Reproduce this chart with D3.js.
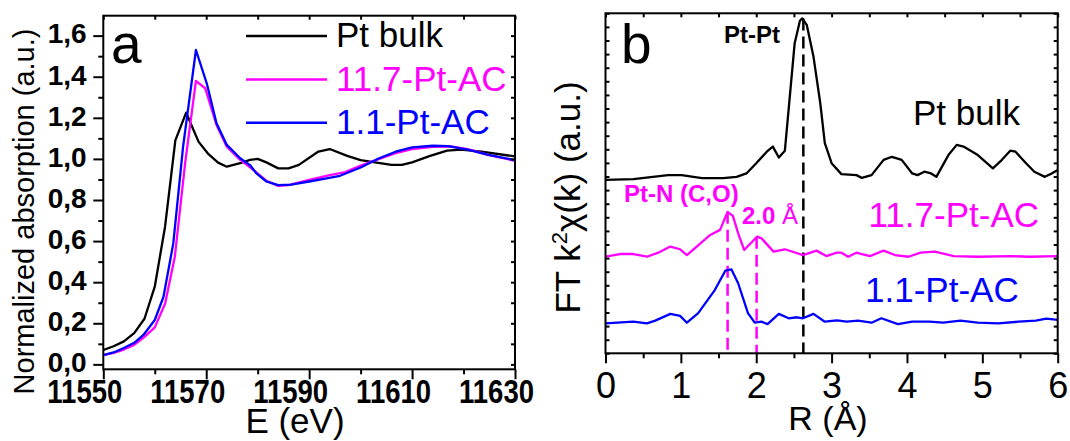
<!DOCTYPE html>
<html><head><meta charset="utf-8">
<script src="https://cdn.jsdelivr.net/npm/d3@7"></script>
<style>
body{margin:0;background:#fff}
svg{display:block}
text{font-family:"Liberation Sans",Arial,Helvetica,sans-serif}
</style>
</head><body>
<svg id="c" width="1070" height="441"></svg>
<script>
// ---------- Panel a : XANES ----------
const seriesNames = ["Pt bulk", "11.7-Pt-AC", "1.1-Pt-AC"];
const seriesColors = ["#000000", "#ff00ff", "#0000ff"];

const xanesBulk = [[11550,0.070],[11552,0.088],[11554,0.112],[11556,0.152],[11558,0.222],[11560,0.378],[11562,0.670],[11564,1.090],[11566.1,1.225],[11568.5,1.084],[11570.4,1.024],[11572.3,0.982],[11574,0.962],[11576.6,0.979],[11578.5,0.995],[11580,1.000],[11581.7,0.983],[11584,0.954],[11586,0.954],[11588,0.971],[11591.8,1.036],[11594,1.048],[11597.4,1.015],[11600,0.994],[11602.8,0.983],[11606,0.971],[11608,0.971],[11610,0.983],[11613.5,1.015],[11616.8,1.040],[11619.5,1.045],[11623.5,1.035],[11630,1.012]];
const xanes117 = [[11550,0.045],[11552,0.056],[11554,0.072],[11556,0.095],[11558,0.134],[11560,0.180],[11562,0.295],[11563.9,0.524],[11565.9,0.979],[11568,1.380],[11569.8,1.344],[11572,1.165],[11574,1.059],[11576.6,0.995],[11579.4,0.942],[11581.7,0.893],[11584,0.869],[11586,0.872],[11590,0.898],[11594,0.921],[11596.8,0.934],[11600,0.967],[11603.5,0.999],[11606.8,1.028],[11610,1.048],[11614,1.059],[11617.5,1.061],[11620.8,1.048],[11624.8,1.020],[11630,0.991]];
const xanes11 = [[11550,0.045],[11552,0.058],[11554,0.080],[11556,0.105],[11557.8,0.143],[11560,0.216],[11561.7,0.329],[11563.6,0.589],[11565.5,1.059],[11568,1.530],[11570.1,1.368],[11572,1.173],[11574,1.068],[11576.6,1.003],[11578.5,0.970],[11579.7,0.931],[11581.7,0.890],[11584,0.872],[11586.5,0.875],[11590,0.890],[11593.4,0.905],[11596,0.918],[11600,0.958],[11603.5,1.002],[11606.8,1.035],[11610,1.056],[11614,1.064],[11617,1.062],[11620.8,1.045],[11624.8,1.020],[11630,0.994]];

const aXTicks = [11550,11570,11590,11610,11630];
const aXMinor = [11560,11580,11600,11620];
const aYTicks = [0,0.2,0.4,0.6,0.8,1.0,1.2,1.4,1.6];
const aYMinor = [0.1,0.3,0.5,0.7,0.9,1.1,1.3,1.5];

// ---------- Panel b : FT-EXAFS ----------
const ftBulk = [[0,5.10],[0.37,5.12],[0.83,5.24],[1.01,5.24],[1.28,5.15],[1.56,5.15],[1.74,5.19],[1.87,5.29],[2.0,5.59],[2.14,5.93],[2.22,6.08],[2.30,5.76],[2.38,5.96],[2.51,9.12],[2.58,9.78],[2.61,9.85],[2.67,9.66],[2.76,8.72],[2.85,7.35],[2.91,6.18],[3.00,5.59],[3.13,5.27],[3.33,5.24],[3.40,5.16],[3.53,5.24],[3.69,5.69],[3.80,5.78],[3.93,5.69],[4.07,5.29],[4.14,5.24],[4.23,5.34],[4.32,5.29],[4.39,5.19],[4.55,5.83],[4.66,6.13],[4.75,6.08],[4.94,5.83],[5.14,5.44],[5.26,5.69],[5.37,5.96],[5.44,5.93],[5.58,5.59],[5.69,5.34],[5.83,5.19],[5.92,5.29],[6.0,5.39]];
const ft117 = [[0,2.84],[0.19,2.92],[0.37,2.92],[0.55,2.84],[0.70,2.96],[0.86,3.14],[0.99,3.06],[1.08,2.89],[1.21,3.14],[1.39,3.48],[1.52,3.63],[1.62,4.16],[1.69,4.04],[1.76,3.53],[1.84,3.04],[2.01,3.43],[2.07,3.38],[2.23,2.99],[2.38,3.06],[2.62,2.89],[2.69,2.94],[2.80,3.02],[2.93,2.86],[3.07,2.96],[3.13,2.96],[3.22,2.84],[3.33,2.96],[3.40,2.92],[3.51,2.86],[3.69,3.02],[3.84,2.89],[4.02,2.84],[4.18,2.96],[4.37,2.99],[4.62,2.86],[4.94,2.84],[5.39,2.86],[5.62,2.84],[6.0,2.86]];
const ft11 = [[0,0.88],[0.37,0.93],[0.55,0.88],[0.66,0.96],[0.86,1.16],[0.99,1.10],[1.08,0.90],[1.23,1.18],[1.45,1.86],[1.59,2.43],[1.67,2.47],[1.76,2.06],[1.89,1.18],[1.98,0.90],[2.07,0.93],[2.15,0.86],[2.30,1.16],[2.43,1.03],[2.54,1.06],[2.62,1.03],[2.76,1.16],[2.91,0.93],[3.07,0.97],[3.20,0.93],[3.35,0.96],[3.53,0.90],[3.66,1.03],[3.88,0.86],[4.07,0.93],[4.30,0.93],[4.48,0.90],[4.71,0.96],[4.94,0.90],[5.21,0.88],[5.48,0.93],[5.71,0.96],[5.85,1.02],[6.0,0.98]];

const bXTicks = [0,1,2,3,4,5,6];
const bXMinor = [0.5,1.5,2.5,3.5,4.5,5.5];
const bYTicks = d3.range(0, 10.01, 0.4);
// dashed markers: [R, top value, colour index]
const dashMarks = [[2.625, 9.85, 0],[1.62, 4.16, 1],[2.005, 3.43, 1]];

// ---------- drawing ----------
const svg = d3.select('#c');
svg.append('rect').attr('width',1070).attr('height',441).attr('fill','#fff');
const FONT = '"Liberation Sans",Arial,sans-serif';

function styleAxis(g){
  g.select('.domain').remove();
  g.selectAll('.tick line').attr('stroke','#000').attr('stroke-width',2);
}

// Panel a
const ax = d3.scaleLinear().domain([11550,11630]).range([103.3,515]);
const ay = d3.scaleLinear().domain([-0.024,1.697]).range([369.3,15.7]);
const A = svg.append('g');

const lineA = d3.line().x(d=>ax(d[0])).y(d=>ay(d[1]));
[xanesBulk, xanes117, xanes11].forEach((s,i)=>{
  A.append('path').datum(s).attr('d',lineA).attr('fill','none')
   .attr('stroke',seriesColors[i]).attr('stroke-width',2.3).attr('stroke-linejoin','round');
});

A.append('g').attr('transform','translate(0,369.3)').call(d3.axisBottom(ax).tickValues(aXMinor).tickSize(5).tickFormat('')).call(styleAxis);
A.append('g').attr('transform','translate(0,369.3)').call(d3.axisBottom(ax).tickValues(aXTicks).tickSize(10).tickFormat('')).call(styleAxis);
A.append('g').attr('transform','translate(0,15.7)').call(d3.axisTop(ax).tickValues(aXTicks.concat(aXMinor)).tickSize(-4).tickFormat('')).call(styleAxis);
A.append('g').attr('transform','translate(103.3,0)').call(d3.axisLeft(ay).tickValues(aYMinor).tickSize(5).tickFormat('')).call(styleAxis);
A.append('g').attr('transform','translate(103.3,0)').call(d3.axisLeft(ay).tickValues(aYTicks).tickSize(10).tickPadding(6.6)
   .tickFormat(d=>d.toFixed(1).replace('.',','))).call(styleAxis)
   .call(g=>g.selectAll('text').attr('font-size',28).attr('font-weight','bold').attr('font-family',FONT).attr('fill','#000').attr('dy','0.26em'));
A.append('g').attr('transform','translate(515,0)').call(d3.axisRight(ay).tickValues(aYTicks.concat(aYMinor)).tickSize(-4).tickFormat('')).call(styleAxis);

A.selectAll('text.axl').data(aXTicks).enter().append('text')
  .attr('transform',d=>`translate(${ax(d)-18.5},403) scale(1,1.24)`)
  .attr('text-anchor','middle').attr('font-size',27.5).attr('font-weight','bold').text(d=>d);

A.append('rect').attr('x',103.3).attr('y',15.7).attr('width',515-103.3).attr('height',369.3-15.7)
  .attr('fill','none').attr('stroke','#000').attr('stroke-width',2);

A.append('text').attr('x',111).attr('y',62.5).attr('font-size',55).text('a');
seriesNames.forEach((n,i)=>{
  const ly = 36 + i*43.4;
  A.append('line').attr('x1',246).attr('x2',327).attr('y1',ly).attr('y2',ly)
    .attr('stroke',seriesColors[i]).attr('stroke-width',2.5);
  A.append('text').attr('x',336).attr('y',ly+11.3).attr('font-size',35).attr('fill',i===0?'#000':seriesColors[i]).text(n);
});
A.append('text').attr('transform','translate(34,211.5) rotate(-90)').attr('text-anchor','middle')
  .attr('font-size',29).text('Normalized absorption (a.u.)');
A.append('text').attr('x',295).attr('y',433).attr('text-anchor','middle').attr('font-size',35).text('E (eV)');

// Panel b
const bx = d3.scaleLinear().domain([0,6]).range([605.5,1057.7]);
const by = d3.scaleLinear().domain([0,10]).range([353.3,13.3]);
const B = svg.append('g');

dashMarks.forEach(m=>{
  B.append('line').attr('x1',bx(m[0])).attr('x2',bx(m[0])).attr('y1',by(m[1])).attr('y2',by(0))
    .attr('stroke',seriesColors[m[2]]).attr('stroke-width',2.5).attr('stroke-dasharray','12,6');
});
const lineB = d3.line().x(d=>bx(d[0])).y(d=>by(d[1]));
[ftBulk, ft117, ft11].forEach((s,i)=>{
  B.append('path').datum(s).attr('d',lineB).attr('fill','none')
   .attr('stroke',seriesColors[i]).attr('stroke-width',2.3).attr('stroke-linejoin','round');
});

B.append('g').attr('transform','translate(0,353.3)').call(d3.axisBottom(bx).tickValues(bXMinor).tickSize(5).tickFormat('')).call(styleAxis);
B.append('g').attr('transform','translate(0,353.3)').call(d3.axisBottom(bx).tickValues(bXTicks).tickSize(10).tickPadding(8).tickFormat(d=>d)).call(styleAxis)
  .call(g=>g.selectAll('text').attr('font-size',36).attr('font-family',FONT).attr('fill','#000').attr('dy',null).attr('y',null)
    .attr('transform','translate(0,44.7)'));
B.append('g').attr('transform','translate(0,13.3)').call(d3.axisTop(bx).tickValues(bXTicks.concat(bXMinor)).tickSize(-4).tickFormat('')).call(styleAxis);
B.append('g').attr('transform','translate(605.5,0)').call(d3.axisLeft(by).tickValues(bYTicks).tickSize(-4).tickFormat('')).call(styleAxis);
B.append('g').attr('transform','translate(1057.7,0)').call(d3.axisRight(by).tickValues(bYTicks).tickSize(-4).tickFormat('')).call(styleAxis);

B.append('rect').attr('x',605.5).attr('y',13.3).attr('width',1057.7-605.5).attr('height',353.3-13.3)
  .attr('fill','none').attr('stroke','#000').attr('stroke-width',2);

B.append('text').attr('x',621).attr('y',62.5).attr('font-size',55).text('b');
B.append('text').attr('x',724).attr('y',42.7).attr('font-size',24).attr('font-weight','bold').text('Pt-Pt');
B.append('text').attr('x',913).attr('y',125).attr('font-size',35).text('Pt bulk');
B.append('text').attr('x',624).attr('y',201.7).attr('font-size',24).attr('font-weight','bold').attr('fill','#ff00ff').text('Pt-N (C,O)');
const t20 = B.append('text').attr('x',742).attr('y',224).attr('font-size',24).attr('fill','#ff00ff');
t20.append('tspan').attr('font-weight','bold').text('2.0 ');
t20.append('tspan').text('Å');
B.append('text').attr('x',868.5).attr('y',226.7).attr('font-size',35).attr('fill','#ff00ff').text('11.7-Pt-AC');
B.append('text').attr('x',865).attr('y',301.7).attr('font-size',35).attr('fill','#0000ff').text('1.1-Pt-AC');

const yt = B.append('text').attr('transform','translate(580,197.5) rotate(-90)').attr('text-anchor','middle').attr('font-size',35);
yt.append('tspan').text('FT k');
yt.append('tspan').attr('font-size',22).attr('dy',-13).text('2');
yt.append('tspan').attr('dy',13).text('χ(k) (a.u.)');
B.append('text').attr('x',828).attr('y',430).attr('text-anchor','middle').attr('font-size',34).text('R (Å)');
</script>
</body></html>
